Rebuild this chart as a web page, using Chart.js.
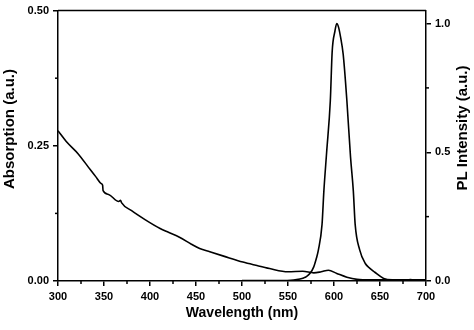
<!DOCTYPE html>
<html>
<head>
<meta charset="utf-8">
<script src="https://cdn.jsdelivr.net/npm/chart.js@4/dist/chart.umd.min.js"></script>
<style>
  html, body { margin: 0; padding: 0; background: #fff; }
  #wrap { width: 474px; height: 330px; }
</style>
</head>
<body>
<div id="wrap"><canvas id="chart" width="474" height="330"></canvas></div>
<script>
// absorption spectrum (left axis)
const absWavelength = [300, 310, 322, 335, 341, 347, 348.5, 349, 355, 366, 368, 369, 380, 395, 411, 420, 432, 445, 454, 465, 480, 501, 515, 530, 550, 566, 578, 586, 594, 603, 614, 625, 640, 660, 680, 700];
const absValues     = [0.278, 0.256, 0.235, 0.206, 0.193, 0.180, 0.177, 0.167, 0.160, 0.147, 0.149, 0.145, 0.130, 0.113, 0.097, 0.090, 0.081, 0.068, 0.060, 0.054, 0.046, 0.035, 0.029, 0.023, 0.017, 0.018, 0.015, 0.017, 0.020, 0.014, 0.007, 0.003, 0.002, 0.002, 0.002, 0.002];

// PL spectrum (right axis)
const plWavelength = [500, 520, 540, 556, 563, 567, 570, 574, 578, 581, 583, 587, 589, 592, 596, 598, 601, 603, 605, 607, 610, 614, 618, 621, 623, 628, 634, 639, 644, 654, 665, 680, 683, 686, 700];
const plValues     = [0.002, 0.002, 0.002, 0.004, 0.008, 0.012, 0.017, 0.030, 0.055, 0.090, 0.120, 0.220, 0.350, 0.500, 0.700, 0.890, 0.970, 1.000, 0.985, 0.950, 0.880, 0.700, 0.480, 0.350, 0.220, 0.120, 0.068, 0.049, 0.035, 0.010, 0.004, 0.003, 0.006, 0.003, 0.000];

// tick labels
const xTicks = [300, 350, 400, 450, 500, 550, 600, 650, 700];
const absTicks = [0, 0.25, 0.5];
const plTicks = [0, 0.5, 1.0];

const FONT = '"Liberation Sans", Arial, sans-serif';

function toPoints(xs, ys) {
  return xs.map((x, i) => ({ x: x, y: ys[i] }));
}

function setTicks(values) {
  return function(scale) {
    scale.ticks = values.map(v => ({ value: v }));
  };
}

// top border, minor ticks and axis titles
const framePlugin = {
  id: 'frame',
  afterDraw(chart) {
    const ctx = chart.ctx;
    const area = chart.chartArea;
    ctx.save();
    ctx.strokeStyle = '#000';
    ctx.lineWidth = 1.5;
    ctx.beginPath();
    ctx.moveTo(area.left, area.top);
    ctx.lineTo(area.right, area.top);
    ctx.stroke();

    // minor ticks halfway between major ones
    const minor = 3;
    const drawMinor = (scale, values, side) => {
      for (let i = 0; i < values.length - 1; i++) {
        const v = (values[i] + values[i + 1]) / 2;
        const p = scale.getPixelForValue(v);
        ctx.beginPath();
        if (side === 'bottom') {
          ctx.moveTo(p, area.bottom);
          ctx.lineTo(p, area.bottom + minor);
        } else if (side === 'left') {
          ctx.moveTo(area.left, p);
          ctx.lineTo(area.left - minor, p);
        } else {
          ctx.moveTo(area.right, p);
          ctx.lineTo(area.right + minor, p);
        }
        ctx.stroke();
      }
    };
    drawMinor(chart.scales.x, xTicks, 'bottom');
    drawMinor(chart.scales.y, absTicks, 'left');
    drawMinor(chart.scales.y1, plTicks, 'right');

    // axis titles
    ctx.fillStyle = '#000';
    ctx.textAlign = 'center';
    ctx.textBaseline = 'middle';
    ctx.font = 'bold 14px ' + FONT;
    ctx.fillText('Wavelength (nm)', (area.left + area.right) / 2, 313);

    ctx.font = 'bold 15px ' + FONT;
    ctx.save();
    ctx.translate(10, 129);
    ctx.rotate(-Math.PI / 2);
    ctx.fillText('Absorption (a.u.)', 0, 0);
    ctx.restore();

    ctx.save();
    ctx.translate(463, 128);
    ctx.rotate(-Math.PI / 2);
    ctx.fillText('PL Intensity (a.u.)', 0, 0);
    ctx.restore();
    ctx.restore();
  }
};

const tickFont = { family: FONT, size: 11, weight: 'bold' };
const axisGrid = { drawOnChartArea: false, color: '#000', lineWidth: 1.5, tickLength: 5 };
const axisBorder = { display: true, color: '#000', width: 1.5 };

new Chart(document.getElementById('chart'), {
  type: 'line',
  data: {
    datasets: [
      {
        label: 'Absorption',
        data: toPoints(absWavelength, absValues),
        yAxisID: 'y',
        borderColor: '#000',
        borderWidth: 1.6,
        pointRadius: 0,
        cubicInterpolationMode: 'monotone'
      },
      {
        label: 'PL',
        data: toPoints(plWavelength, plValues),
        yAxisID: 'y1',
        borderColor: '#000',
        borderWidth: 1.6,
        pointRadius: 0,
        cubicInterpolationMode: 'monotone'
      }
    ]
  },
  options: {
    responsive: false,
    animation: false,
    layout: { padding: { top: 9, left: 0, right: 0, bottom: 0 } },
    plugins: { legend: { display: false }, tooltip: { enabled: false } },
    scales: {
      x: {
        type: 'linear',
        min: 300,
        max: 700,
        afterBuildTicks: setTicks(xTicks),
        afterFit(scale) { scale.height = 49; },
        grid: axisGrid,
        border: axisBorder,
        ticks: { color: '#000', font: tickFont, padding: 4, maxRotation: 0, autoSkip: false }
      },
      y: {
        position: 'left',
        min: 0,
        max: 0.5,
        afterBuildTicks: setTicks(absTicks),
        afterFit(scale) { scale.width = 58; },
        grid: axisGrid,
        border: axisBorder,
        ticks: { color: '#000', font: tickFont, padding: 4, callback: v => v.toFixed(2) }
      },
      y1: {
        position: 'right',
        min: 0,
        max: 1.0502,
        afterBuildTicks: setTicks(plTicks),
        afterFit(scale) { scale.width = 48; },
        grid: axisGrid,
        border: axisBorder,
        ticks: { color: '#000', font: tickFont, padding: 4, callback: v => v.toFixed(1) }
      }
    }
  },
  plugins: [framePlugin]
});
</script>
</body>
</html>
